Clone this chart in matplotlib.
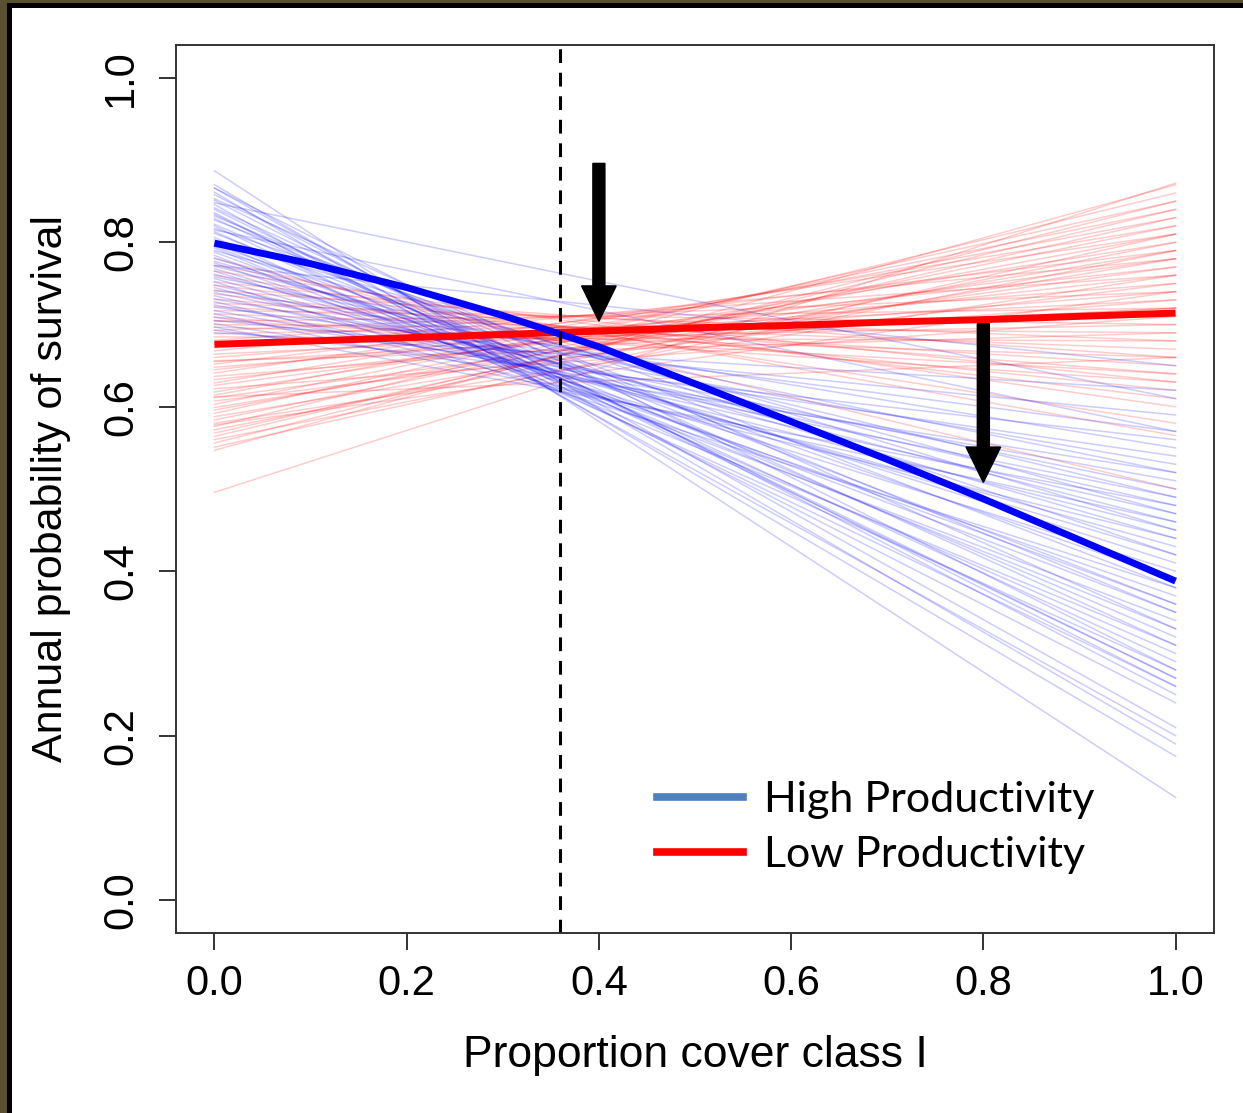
import numpy as np
import matplotlib.pyplot as plt
from matplotlib.patches import Rectangle
from matplotlib.lines import Line2D

# posterior draws: predicted survival at cover = 0 and cover = 1
blue_start = [0.887, 0.870, 0.866, 0.861, 0.858, 0.853, 0.851, 0.846, 0.842, 0.840,
              0.836, 0.832, 0.829, 0.827, 0.822, 0.820, 0.817, 0.813, 0.811, 0.806,
              0.803, 0.800, 0.797, 0.793, 0.790, 0.788, 0.784, 0.781, 0.777, 0.775,
              0.771, 0.768, 0.765, 0.761, 0.758, 0.756, 0.752, 0.748, 0.745, 0.742,
              0.739, 0.735, 0.731, 0.728, 0.724, 0.721, 0.717, 0.713, 0.709, 0.705,
              0.701, 0.697, 0.693, 0.690, 0.866, 0.848, 0.834, 0.815, 0.795, 0.772]
blue_end = [0.125, 0.19, 0.28, 0.175, 0.25, 0.33, 0.26, 0.20, 0.31, 0.27,
            0.24, 0.35, 0.29, 0.38, 0.32, 0.26, 0.42, 0.30, 0.36, 0.28,
            0.45, 0.33, 0.39, 0.31, 0.47, 0.36, 0.34, 0.41, 0.44, 0.37,
            0.49, 0.42, 0.40, 0.46, 0.52, 0.43, 0.38, 0.48, 0.45, 0.55,
            0.50, 0.47, 0.53, 0.44, 0.49, 0.57, 0.51, 0.46, 0.54, 0.59,
            0.52, 0.48, 0.56, 0.62, 0.21, 0.61, 0.27, 0.57, 0.35, 0.65]
red_start = [0.780, 0.772, 0.765, 0.760, 0.752, 0.748, 0.741, 0.737, 0.731, 0.726,
             0.722, 0.717, 0.713, 0.709, 0.704, 0.700, 0.697, 0.693, 0.689, 0.685,
             0.681, 0.676, 0.672, 0.668, 0.664, 0.660, 0.656, 0.652, 0.648, 0.645,
             0.641, 0.637, 0.633, 0.629, 0.626, 0.622, 0.618, 0.614, 0.611, 0.607,
             0.603, 0.599, 0.596, 0.592, 0.588, 0.584, 0.580, 0.576, 0.572, 0.568,
             0.564, 0.560, 0.556, 0.551, 0.547, 0.496, 0.705, 0.655, 0.612, 0.578]
red_end = [0.50, 0.565, 0.60, 0.58, 0.63, 0.61, 0.66, 0.62, 0.64, 0.68,
           0.65, 0.70, 0.67, 0.63, 0.72, 0.69, 0.66, 0.74, 0.71, 0.68,
           0.76, 0.70, 0.73, 0.78, 0.72, 0.75, 0.69, 0.79, 0.74, 0.77,
           0.81, 0.73, 0.76, 0.82, 0.78, 0.71, 0.80, 0.83, 0.77, 0.75,
           0.84, 0.79, 0.81, 0.85, 0.78, 0.82, 0.76, 0.86, 0.80, 0.83,
           0.84, 0.79, 0.85, 0.81, 0.87, 0.872, 0.64, 0.72, 0.66, 0.74]

# posterior mean curves
mean_x = [0.0, 0.1, 0.2, 0.3, 0.4, 0.5, 0.6, 0.7, 0.8, 0.9, 1.0]
high_mean = [0.799, 0.774, 0.745, 0.711, 0.673, 0.628, 0.582, 0.536, 0.488, 0.438, 0.388]
low_mean = [0.676, 0.680, 0.684, 0.688, 0.692, 0.696, 0.699, 0.703, 0.706, 0.710, 0.714]

threshold = 0.36
arrow_x = [0.40, 0.80]
arrow_top = [0.896, 0.701]
arrow_tip = [0.704, 0.508]

plt.rcParams['font.family'] = ['Liberation Sans', 'DejaVu Sans']

fig = plt.figure(figsize=(12.43, 11.13), dpi=100)
fig.patch.set_facecolor('#58502f')
W, H = 1243, 1113
fig.patches.append(Rectangle((7 / W, 0), 1, 1 - 3 / H, transform=fig.transFigure,
                             facecolor='black', edgecolor='none', zorder=-10))
fig.patches.append(Rectangle((12 / W, 0), 1, 1 - 8 / H, transform=fig.transFigure,
                             facecolor='white', edgecolor='none', zorder=-9))

ax = fig.add_axes([176 / W, 1 - 933 / H, 1038 / W, 888 / H])
ax.set_facecolor('white')

for s, e in zip(red_start, red_end):
    ax.plot([0, 1], [s, e], color='#ff0000', alpha=0.2, lw=1.1)
for s, e in zip(blue_start, blue_end):
    ax.plot([0, 1], [s, e], color='#0000ff', alpha=0.2, lw=1.1)

ax.plot(mean_x, low_mean, color='#ff0000', lw=5, solid_capstyle='butt')
ax.plot(mean_x, high_mean, color='#0000ff', lw=5, solid_capstyle='butt')

ax.axvline(threshold, color='black', lw=2.2, dashes=(4.5, 3.2))

for x, t, b in zip(arrow_x, arrow_top, arrow_tip):
    ax.arrow(x, t, 0, b - t, width=0.0125, head_width=0.036, head_length=0.043,
             length_includes_head=True, color='black', zorder=5)

ax.set_xlim(-0.04, 1.04)
ax.set_ylim(-0.04, 1.04)
ticks = [0.0, 0.2, 0.4, 0.6, 0.8, 1.0]
ax.set_xticks(ticks)
ax.set_yticks(ticks)
ax.set_xticklabels(['%.1f' % t for t in ticks])
ax.set_yticklabels(['%.1f' % t for t in ticks], rotation=90, va='center')
ax.tick_params(axis='both', length=12, width=1.4, color='#333333', labelsize=30)
ax.tick_params(axis='x', pad=10)
ax.tick_params(axis='y', pad=13)
for sp in ax.spines.values():
    sp.set_linewidth(1.4)
    sp.set_color('#333333')

ax.set_xlabel('Proportion cover class I', fontsize=32, labelpad=23)
ax.set_ylabel('Annual probability of survival', fontsize=31, labelpad=22)

handles = [Line2D([], [], color='#4f81bd', lw=5.5),
           Line2D([], [], color='#ff0000', lw=5.5)]
ax.legend(handles, ['High Productivity', 'Low Productivity'], frameon=False,
          loc='upper left', bbox_to_anchor=(0.463, 0.171), borderaxespad=0,
          borderpad=0, handlelength=2.0, handletextpad=0.5, labelspacing=0.39,
          prop={'family': 'Lato', 'size': 31})

fig.savefig('out.png', dpi=100, facecolor=fig.get_facecolor())
